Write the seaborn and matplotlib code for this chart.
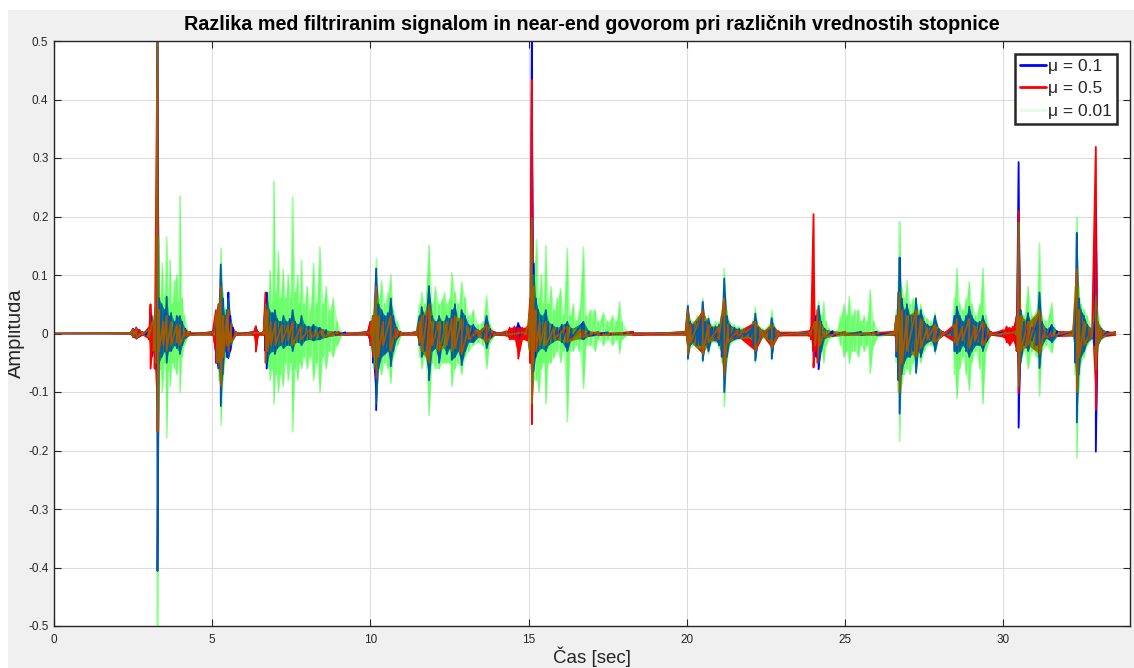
import numpy as np
import pandas as pd
import matplotlib
matplotlib.use("Agg")
import matplotlib.pyplot as plt
from matplotlib.lines import Line2D
from matplotlib.patches import Rectangle
import seaborn as sns

# Envelope knots of the residual signal (seconds, upper peak, lower peak)
# mu = 0.1
t_mu01 = [0.0, 2.4, 2.5, 2.6, 2.7, 2.8, 2.9, 3.0, 3.08, 3.15, 3.22, 3.27, 3.32, 3.40, 3.50, 3.56, 3.62, 3.70, 3.80, 3.88,
          3.98, 4.05, 4.15, 4.3, 5.0, 5.12, 5.20, 5.27, 5.33, 5.40, 5.46, 5.51, 5.57, 5.65, 5.75, 6.30, 6.38, 6.45, 6.62, 6.68,
          6.72, 6.80, 6.90, 6.98, 7.05, 7.15, 7.25, 7.35, 7.45, 7.54, 7.62, 7.72, 7.82, 7.92, 8.05, 8.2, 8.4, 8.6, 8.9, 9.2,
          9.9, 10.0, 10.08, 10.18, 10.25, 10.35, 10.45, 10.55, 10.64, 10.72, 10.82, 10.95, 11.45, 11.55, 11.62, 11.72, 11.85, 11.95, 12.05, 12.17,
          12.27, 12.41, 12.50, 12.57, 12.67, 12.77, 12.88, 12.99, 13.1, 13.25, 13.4, 13.55, 13.67, 13.78, 13.95, 14.3, 14.4, 14.55, 14.67, 14.8,
          14.95, 15.05, 15.10, 15.15, 15.22, 15.30, 15.40, 15.54, 15.62, 15.75, 15.9, 16.05, 16.22, 16.35, 16.73, 16.9, 17.5, 18.3, 19.95, 20.03,
          20.1, 20.2, 20.32, 20.42, 20.50, 20.58, 20.68, 20.78, 20.9, 21.02, 21.10, 21.18, 21.26, 21.35, 21.5, 21.65, 21.8, 22.0, 22.10, 22.16,
          22.25, 22.4, 22.6, 22.68, 22.76, 22.9, 23.9, 24.0, 24.08, 24.16, 24.24, 24.35, 24.6, 25.0, 25.5, 26.0, 26.55, 26.62, 26.68, 26.72,
          26.78, 26.86, 26.95, 27.05, 27.15, 27.24, 27.31, 27.39, 27.5, 27.6, 27.72, 27.84, 27.95, 28.1, 28.38, 28.45, 28.53, 28.62, 28.72, 28.82,
          28.92, 29.0, 29.12, 29.25, 29.35, 29.45, 29.6, 30.0, 30.1, 30.3, 30.42, 30.48, 30.54, 30.65, 30.78, 30.9, 31.05, 31.14, 31.22, 31.35,
          31.53, 31.7, 32.2, 32.27, 32.32, 32.38, 32.45, 32.55, 32.65, 32.8, 32.88, 32.92, 32.98, 33.1, 33.3, 33.53]
hi_mu01 = [0.0, 0.001, 0.008, 0.01, 0.006, 0.002, 0.002, 0.01, 0.03, 0.02, 0.05, 0.51, 0.06, 0.05, 0.04, 0.063, 0.03, 0.035, 0.02, 0.03,
           0.03, 0.02, 0.008, 0.002, 0.002, 0.02, 0.05, 0.118, 0.06, 0.03, 0.04, 0.07, 0.03, 0.01, 0.002, 0.002, 0.012, 0.002, 0.002, 0.05,
           0.07, 0.04, 0.035, 0.04, 0.025, 0.02, 0.03, 0.02, 0.025, 0.04, 0.02, 0.015, 0.03, 0.015, 0.012, 0.015, 0.01, 0.006, 0.003, 0.002,
           0.002, 0.02, 0.03, 0.111, 0.05, 0.04, 0.03, 0.035, 0.06, 0.03, 0.01, 0.002, 0.002, 0.03, 0.045, 0.03, 0.081, 0.03, 0.02, 0.03,
           0.02, 0.03, 0.025, 0.04, 0.05, 0.02, 0.04, 0.03, 0.015, 0.015, 0.006, 0.008, 0.03, 0.008, 0.002, 0.002, 0.006, 0.008, 0.018, 0.006,
           0.008, 0.04, 0.51, 0.12, 0.06, 0.04, 0.03, 0.04, 0.02, 0.015, 0.01, 0.015, 0.02, 0.008, 0.02, 0.004, 0.002, 0.002, 0.002, 0.047,
           0.02, 0.015, 0.02, 0.025, 0.054, 0.02, 0.025, 0.01, 0.012, 0.015, 0.03, 0.094, 0.03, 0.015, 0.01, 0.008, 0.006, 0.006, 0.02, 0.034,
           0.01, 0.005, 0.01, 0.026, 0.01, 0.002, 0.002, 0.01, 0.03, 0.047, 0.02, 0.008, 0.004, 0.003, 0.003, 0.003, 0.003, 0.03, 0.07, 0.13,
           0.06, 0.04, 0.05, 0.03, 0.03, 0.06, 0.03, 0.04, 0.02, 0.015, 0.012, 0.03, 0.008, 0.003, 0.004, 0.03, 0.046, 0.03, 0.02, 0.03,
           0.046, 0.03, 0.02, 0.02, 0.03, 0.015, 0.003, 0.003, 0.006, 0.006, 0.03, 0.293, 0.04, 0.02, 0.035, 0.01, 0.02, 0.07, 0.02, 0.008,
           0.015, 0.004, 0.004, 0.05, 0.172, 0.06, 0.04, 0.03, 0.015, 0.008, 0.02, 0.215, 0.02, 0.008, 0.003, 0.002]
lo_mu01 = [0.0, -0.001, -0.006, -0.008, -0.005, -0.002, -0.002, -0.01, -0.04, -0.03, -0.06, -0.406, -0.05, -0.04, -0.03, -0.05, -0.03, -0.03, -0.02, -0.025,
           -0.035, -0.02, -0.008, -0.002, -0.002, -0.05, -0.06, -0.124, -0.07, -0.03, -0.04, -0.042, -0.03, -0.01, -0.002, -0.002, -0.02, -0.002, -0.002, -0.03,
           -0.06, -0.035, -0.03, -0.035, -0.025, -0.02, -0.025, -0.02, -0.02, -0.03, -0.015, -0.015, -0.02, -0.012, -0.01, -0.012, -0.01, -0.006, -0.003, -0.002,
           -0.002, -0.02, -0.05, -0.131, -0.06, -0.04, -0.035, -0.03, -0.056, -0.03, -0.01, -0.002, -0.002, -0.02, -0.04, -0.03, -0.08, -0.03, -0.025, -0.05,
           -0.02, -0.035, -0.025, -0.045, -0.04, -0.03, -0.054, -0.03, -0.015, -0.015, -0.006, -0.008, -0.025, -0.008, -0.002, -0.002, -0.006, -0.007, -0.01, -0.006,
           -0.01, -0.05, -0.125, -0.065, -0.04, -0.03, -0.025, -0.03, -0.02, -0.015, -0.01, -0.015, -0.03, -0.008, -0.01, -0.004, -0.002, -0.002, -0.002, -0.043,
           -0.02, -0.015, -0.02, -0.02, -0.046, -0.02, -0.03, -0.01, -0.012, -0.02, -0.04, -0.10, -0.04, -0.015, -0.01, -0.008, -0.006, -0.006, -0.02, -0.046,
           -0.015, -0.005, -0.01, -0.043, -0.012, -0.002, -0.002, -0.03, -0.04, -0.061, -0.03, -0.008, -0.004, -0.003, -0.003, -0.003, -0.003, -0.04, -0.08, -0.137,
           -0.07, -0.05, -0.04, -0.04, -0.03, -0.067, -0.03, -0.04, -0.02, -0.015, -0.012, -0.03, -0.008, -0.003, -0.004, -0.03, -0.034, -0.03, -0.02, -0.03,
           -0.04, -0.03, -0.02, -0.02, -0.03, -0.015, -0.003, -0.003, -0.008, -0.008, -0.03, -0.161, -0.05, -0.02, -0.03, -0.012, -0.02, -0.059, -0.02, -0.008,
           -0.015, -0.004, -0.004, -0.05, -0.152, -0.07, -0.04, -0.03, -0.015, -0.008, -0.02, -0.202, -0.02, -0.008, -0.003, -0.002]

# mu = 0.5
t_mu05 = [0.0, 2.4, 2.5, 2.6, 2.7, 2.8, 3.0, 3.05, 3.12, 3.18, 3.27, 3.32, 3.45, 3.56, 3.7, 3.88, 3.98, 4.15, 4.3, 5.0,
          5.12, 5.20, 5.27, 5.35, 5.46, 5.51, 5.6, 5.75, 6.30, 6.38, 6.45, 6.62, 6.68, 6.75, 6.85, 7.0, 7.2, 7.4, 7.54, 7.8,
          8.1, 8.5, 9.0, 9.9, 10.0, 10.08, 10.18, 10.25, 10.4, 10.64, 10.8, 10.95, 11.45, 11.55, 11.62, 11.85, 11.95, 12.17, 12.41, 12.57,
          12.67, 12.88, 13.1, 13.4, 13.67, 13.9, 14.3, 14.4, 14.55, 14.67, 14.8, 14.95, 15.05, 15.10, 15.15, 15.22, 15.35, 15.54, 15.8, 16.22,
          16.7, 17.2, 18.3, 19.95, 20.03, 20.12, 20.5, 20.68, 21.0, 21.18, 21.3, 21.6, 22.16, 22.4, 22.68, 22.9, 23.85, 23.92, 24.0, 24.05,
          24.12, 24.2, 24.35, 25.0, 26.55, 26.62, 26.72, 26.8, 26.95, 27.24, 27.39, 27.6, 27.84, 28.1, 28.45, 28.53, 28.7, 28.92, 29.1, 29.35,
          29.6, 30.0, 30.1, 30.2, 30.3, 30.42, 30.48, 30.55, 30.78, 31.14, 31.3, 32.2, 32.32, 32.4, 32.55, 32.8, 32.92, 32.98, 33.1, 33.53]
hi_mu05 = [0.0, 0.001, 0.008, 0.01, 0.006, 0.003, 0.01, 0.05, 0.02, 0.03, 0.51, 0.04, 0.02, 0.03, 0.02, 0.015, 0.015, 0.006, 0.003, 0.003,
           0.04, 0.05, 0.08, 0.03, 0.03, 0.04, 0.015, 0.003, 0.003, 0.012, 0.003, 0.003, 0.07, 0.04, 0.02, 0.02, 0.015, 0.015, 0.02, 0.012,
           0.008, 0.006, 0.003, 0.003, 0.02, 0.03, 0.08, 0.03, 0.02, 0.03, 0.008, 0.003, 0.003, 0.02, 0.03, 0.05, 0.02, 0.02, 0.02, 0.025,
           0.03, 0.025, 0.01, 0.005, 0.015, 0.003, 0.004, 0.01, 0.012, 0.01, 0.01, 0.012, 0.06, 0.433, 0.08, 0.04, 0.02, 0.02, 0.01, 0.012,
           0.006, 0.003, 0.003, 0.003, 0.04, 0.015, 0.04, 0.015, 0.01, 0.06, 0.015, 0.005, 0.02, 0.005, 0.015, 0.004, 0.004, 0.01, 0.204, 0.02,
           0.04, 0.02, 0.006, 0.003, 0.003, 0.03, 0.07, 0.04, 0.03, 0.04, 0.025, 0.01, 0.015, 0.003, 0.015, 0.025, 0.012, 0.025, 0.012, 0.02,
           0.003, 0.006, 0.012, 0.01, 0.012, 0.03, 0.209, 0.03, 0.02, 0.04, 0.006, 0.004, 0.11, 0.04, 0.02, 0.006, 0.319, 0.02, 0.006, 0.003]
lo_mu05 = [0.0, -0.001, -0.006, -0.009, -0.005, -0.003, -0.01, -0.06, -0.03, -0.06, -0.168, -0.03, -0.02, -0.03, -0.02, -0.015, -0.02, -0.006, -0.003, -0.003,
           -0.05, -0.05, -0.09, -0.04, -0.02, -0.03, -0.015, -0.003, -0.003, -0.031, -0.003, -0.003, -0.05, -0.03, -0.02, -0.02, -0.015, -0.012, -0.02, -0.01,
           -0.008, -0.006, -0.003, -0.003, -0.02, -0.04, -0.076, -0.04, -0.02, -0.03, -0.008, -0.003, -0.003, -0.015, -0.03, -0.05, -0.02, -0.03, -0.02, -0.03,
           -0.025, -0.035, -0.01, -0.005, -0.015, -0.003, -0.004, -0.01, -0.01, -0.043, -0.01, -0.012, -0.05, -0.155, -0.05, -0.03, -0.02, -0.02, -0.01, -0.015,
           -0.006, -0.003, -0.003, -0.003, -0.035, -0.015, -0.035, -0.015, -0.01, -0.07, -0.015, -0.005, -0.03, -0.005, -0.025, -0.004, -0.004, -0.01, -0.058, -0.03,
           -0.05, -0.02, -0.006, -0.003, -0.003, -0.03, -0.10, -0.05, -0.03, -0.04, -0.025, -0.01, -0.015, -0.003, -0.015, -0.02, -0.012, -0.025, -0.012, -0.02,
           -0.003, -0.006, -0.015, -0.02, -0.012, -0.03, -0.101, -0.03, -0.02, -0.035, -0.006, -0.004, -0.10, -0.04, -0.02, -0.006, -0.13, -0.02, -0.006, -0.003]

# mu = 0.01
t_mu001 = [0.0, 2.4, 2.5, 2.6, 2.8, 3.0, 3.15, 3.22, 3.27, 3.30, 3.36, 3.42, 3.50, 3.56, 3.62, 3.67, 3.74, 3.80, 3.88, 3.94,
           3.98, 4.05, 4.12, 4.25, 5.05, 5.15, 5.22, 5.28, 5.34, 5.42, 5.51, 5.6, 5.75, 6.62, 6.70, 6.78, 6.83, 6.90, 6.95, 7.01,
           7.09, 7.16, 7.24, 7.32, 7.40, 7.48, 7.54, 7.62, 7.70, 7.76, 7.82, 7.90, 8.0, 8.1, 8.2, 8.3, 8.4, 8.5, 8.6, 8.7,
           8.82, 8.95, 9.1, 10.0, 10.05, 10.12, 10.19, 10.26, 10.35, 10.45, 10.55, 10.64, 10.72, 10.85, 10.98, 11.45, 11.55, 11.62, 11.72, 11.85,
           11.95, 12.05, 12.17, 12.27, 12.34, 12.41, 12.50, 12.57, 12.67, 12.77, 12.88, 12.99, 13.1, 13.25, 13.4, 13.55, 13.67, 13.78, 13.95, 14.3,
           14.9, 15.02, 15.10, 15.15, 15.25, 15.33, 15.40, 15.47, 15.54, 15.62, 15.70, 15.8, 15.9, 16.01, 16.1, 16.22, 16.3, 16.41, 16.5, 16.6,
           16.73, 16.82, 16.95, 17.1, 17.2, 17.36, 17.5, 17.65, 17.78, 17.87, 17.95, 18.15, 19.95, 20.03, 20.1, 20.2, 20.32, 20.42, 20.50, 20.58,
           20.68, 20.78, 20.9, 21.02, 21.10, 21.18, 21.26, 21.35, 21.5, 21.65, 21.8, 22.0, 22.10, 22.16, 22.25, 22.4, 22.6, 22.68, 22.76, 22.9,
           23.9, 24.05, 24.16, 24.25, 24.32, 24.4, 24.5, 24.75, 24.85, 24.96, 25.05, 25.13, 25.22, 25.3, 25.42, 25.5, 25.6, 25.7, 25.79, 25.9,
           26.05, 26.55, 26.62, 26.68, 26.72, 26.78, 26.86, 26.95, 27.05, 27.15, 27.24, 27.31, 27.39, 27.5, 27.6, 27.72, 27.84, 27.95, 28.1, 28.38,
           28.45, 28.53, 28.62, 28.72, 28.82, 28.92, 29.0, 29.12, 29.25, 29.35, 29.45, 29.6, 30.4, 30.45, 30.48, 30.55, 30.65, 30.78, 30.9, 31.05,
           31.14, 31.22, 31.35, 31.53, 31.62, 31.75, 32.2, 32.27, 32.32, 32.38, 32.45, 32.55, 32.65, 32.8, 32.92, 33.0, 33.1, 33.3, 33.53]
hi_mu001 = [0.0, 0.001, 0.006, 0.008, 0.002, 0.006, 0.03, 0.05, 0.55, 0.165, 0.06, 0.12, 0.06, 0.165, 0.06, 0.125, 0.05, 0.09, 0.10, 0.05,
            0.235, 0.06, 0.03, 0.003, 0.002, 0.04, 0.06, 0.145, 0.07, 0.04, 0.06, 0.02, 0.002, 0.002, 0.05, 0.07, 0.107, 0.05, 0.26, 0.07,
            0.14, 0.06, 0.11, 0.06, 0.10, 0.06, 0.233, 0.07, 0.10, 0.05, 0.125, 0.05, 0.08, 0.04, 0.12, 0.05, 0.148, 0.05, 0.08, 0.04,
            0.06, 0.02, 0.002, 0.002, 0.03, 0.06, 0.128, 0.06, 0.09, 0.05, 0.07, 0.10, 0.04, 0.02, 0.002, 0.002, 0.05, 0.07, 0.05, 0.151,
            0.05, 0.08, 0.05, 0.06, 0.07, 0.05, 0.06, 0.104, 0.07, 0.05, 0.088, 0.06, 0.03, 0.04, 0.015, 0.02, 0.064, 0.015, 0.002, 0.002,
            0.002, 0.03, 0.197, 0.10, 0.16, 0.06, 0.10, 0.05, 0.15, 0.05, 0.08, 0.04, 0.06, 0.077, 0.03, 0.145, 0.03, 0.05, 0.02, 0.04,
            0.147, 0.03, 0.04, 0.04, 0.02, 0.035, 0.02, 0.03, 0.02, 0.054, 0.02, 0.002, 0.002, 0.05, 0.025, 0.02, 0.03, 0.03, 0.06, 0.025,
            0.03, 0.015, 0.02, 0.02, 0.04, 0.111, 0.04, 0.02, 0.015, 0.012, 0.01, 0.008, 0.025, 0.045, 0.015, 0.008, 0.015, 0.04, 0.015, 0.002,
            0.002, 0.02, 0.055, 0.03, 0.054, 0.02, 0.008, 0.005, 0.03, 0.05, 0.03, 0.063, 0.03, 0.04, 0.04, 0.02, 0.03, 0.02, 0.074, 0.02,
            0.005, 0.002, 0.04, 0.09, 0.191, 0.08, 0.06, 0.09, 0.05, 0.06, 0.06, 0.04, 0.05, 0.03, 0.025, 0.02, 0.035, 0.01, 0.002, 0.004,
            0.06, 0.111, 0.05, 0.04, 0.06, 0.088, 0.05, 0.03, 0.05, 0.111, 0.03, 0.002, 0.002, 0.03, 0.19, 0.04, 0.03, 0.08, 0.03, 0.04,
            0.154, 0.03, 0.02, 0.052, 0.01, 0.002, 0.005, 0.08, 0.198, 0.08, 0.05, 0.04, 0.03, 0.01, 0.064, 0.03, 0.01, 0.002, 0.002]
lo_mu001 = [0.0, -0.001, -0.005, -0.007, -0.002, -0.006, -0.03, -0.05, -0.55, -0.17, -0.06, -0.10, -0.05, -0.178, -0.06, -0.09, -0.05, -0.06, -0.07, -0.04,
            -0.10, -0.04, -0.02, -0.003, -0.002, -0.05, -0.08, -0.156, -0.08, -0.04, -0.04, -0.02, -0.002, -0.002, -0.05, -0.06, -0.08, -0.06, -0.12, -0.07,
            -0.10, -0.07, -0.09, -0.05, -0.08, -0.05, -0.168, -0.06, -0.08, -0.05, -0.06, -0.04, -0.06, -0.04, -0.08, -0.05, -0.10, -0.04, -0.06, -0.03,
            -0.04, -0.02, -0.002, -0.002, -0.03, -0.06, -0.12, -0.06, -0.07, -0.05, -0.06, -0.085, -0.04, -0.02, -0.002, -0.002, -0.04, -0.06, -0.04, -0.14,
            -0.05, -0.06, -0.06, -0.05, -0.05, -0.05, -0.05, -0.09, -0.06, -0.05, -0.07, -0.04, -0.03, -0.02, -0.015, -0.02, -0.06, -0.015, -0.002, -0.002,
            -0.002, -0.03, -0.12, -0.08, -0.08, -0.10, -0.06, -0.05, -0.12, -0.05, -0.05, -0.04, -0.03, -0.05, -0.03, -0.151, -0.03, -0.03, -0.02, -0.03,
            -0.094, -0.02, -0.02, -0.03, -0.01, -0.02, -0.01, -0.02, -0.01, -0.034, -0.01, -0.002, -0.002, -0.045, -0.025, -0.02, -0.025, -0.025, -0.05, -0.025,
            -0.035, -0.015, -0.015, -0.025, -0.05, -0.125, -0.05, -0.02, -0.012, -0.01, -0.008, -0.008, -0.02, -0.05, -0.015, -0.008, -0.012, -0.045, -0.015, -0.002,
            -0.002, -0.02, -0.05, -0.03, -0.05, -0.02, -0.008, -0.005, -0.02, -0.04, -0.03, -0.051, -0.03, -0.03, -0.04, -0.02, -0.03, -0.02, -0.068, -0.02,
            -0.005, -0.002, -0.05, -0.10, -0.184, -0.09, -0.07, -0.06, -0.07, -0.05, -0.07, -0.04, -0.05, -0.03, -0.02, -0.02, -0.035, -0.01, -0.002, -0.004,
            -0.07, -0.111, -0.06, -0.04, -0.07, -0.097, -0.05, -0.03, -0.06, -0.12, -0.03, -0.002, -0.002, -0.03, -0.09, -0.05, -0.03, -0.06, -0.03, -0.04,
            -0.107, -0.03, -0.02, -0.033, -0.01, -0.002, -0.005, -0.07, -0.213, -0.10, -0.05, -0.04, -0.02, -0.01, -0.06, -0.02, -0.01, -0.002, -0.002]

labels = ["\u03bc = 0.1", "\u03bc = 0.5", "\u03bc = 0.01"]
x_ticks = [0, 5, 10, 15, 20, 25, 30]
y_ticks = [-0.5, -0.4, -0.3, -0.2, -0.1, 0, 0.1, 0.2, 0.3, 0.4, 0.5]
y_ticklabels = ["-0.5", "-0.4", "-0.3", "-0.2", "-0.1", "0", "0.1", "0.2", "0.3", "0.4", "0.5"]


def waveform_frame(t, hi, lo):
    """Trace each knot's upper then lower peak so the line sweeps the envelope."""
    t = np.asarray(t, dtype=float)
    return pd.DataFrame({
        "t": np.repeat(t, 2),
        "v": np.column_stack([hi, lo]).ravel(),
    })


sns.set_style("white")
plt.rcParams["font.family"] = ["Liberation Sans", "DejaVu Sans"]

W, H = 1134, 668
fig = plt.figure(figsize=(W / 100, H / 100), dpi=100, facecolor="#f0f0f0")
# white margin strips along the top and left edges of the window
fig.add_artist(Rectangle((0, 1 - 10 / H), 1, 10 / H, transform=fig.transFigure,
                         facecolor="white", edgecolor="none"))
fig.add_artist(Rectangle((0, 0), 8 / W, 1, transform=fig.transFigure,
                         facecolor="white", edgecolor="none"))

ax = fig.add_axes([54 / W, 1 - 626 / H, (1130 - 54) / W, (626 - 41) / H])
ax.set_facecolor("white")

# (knots, colour, body alpha, trace alpha)
series = [
    (t_mu01, hi_mu01, lo_mu01, "#0000ff", 1.0, 1.0),
    (t_mu05, hi_mu05, lo_mu05, "#ff0000", 1.0, 1.0),
    (t_mu001, hi_mu001, lo_mu001, "#00ff00", 0.35, 0.36),
]
for t, hi, lo, col, fa, la in series:
    ax.fill_between(t, lo, hi, color=col, alpha=fa, linewidth=0)
    df = waveform_frame(t, hi, lo)
    sns.lineplot(data=df, x="t", y="v", sort=False, estimator=None,
                 color=col, alpha=la, linewidth=1.3, ax=ax, legend=False)

ax.set_xlim(0, 34.0)
ax.set_ylim(-0.5, 0.5)
ax.set_xticks(x_ticks)
ax.set_xticklabels([str(v) for v in x_ticks])
ax.set_yticks(y_ticks)
ax.set_yticklabels(y_ticklabels)

axis_col = "#262626"
ax.grid(True, color="#dcdcdc", linewidth=0.8)
ax.set_axisbelow(True)
for s in ax.spines.values():
    s.set_visible(True)
    s.set_color(axis_col)
    s.set_linewidth(1.0)
ax.tick_params(axis="both", which="both", direction="in", length=5, width=0.8,
               color=axis_col, labelcolor=axis_col, labelsize=8.5,
               top=True, right=True, bottom=True, left=True)
ax.tick_params(axis="x", pad=6)
ax.tick_params(axis="y", pad=4)

ax.set_title("Razlika med filtriranim signalom in near-end govorom pri razli\u010dnih vrednostih stopnice",
             fontsize=14.2, fontweight="bold", color="black", pad=8)
ax.set_xlabel("\u010cas [sec]", fontsize=13.5, color=axis_col, labelpad=0)
ax.set_ylabel("Amplituda", fontsize=14.5, color=axis_col, labelpad=2)

handles = [
    Line2D([], [], color="#0000ff", linewidth=2),
    Line2D([], [], color="#ff0000", linewidth=2),
    Line2D([], [], color="#00ff00", alpha=0.12, linewidth=2),
]
leg = ax.legend(handles, labels, loc="upper right", fontsize=12.5, frameon=True,
                fancybox=False, shadow=False, framealpha=1, facecolor="white",
                edgecolor=axis_col, handlelength=1.5, handletextpad=0.1,
                borderpad=0.3, labelspacing=0.4, borderaxespad=0.75)
leg.get_frame().set_linewidth(1.8)

fig.savefig("out.png", dpi=100, facecolor=fig.get_facecolor())
